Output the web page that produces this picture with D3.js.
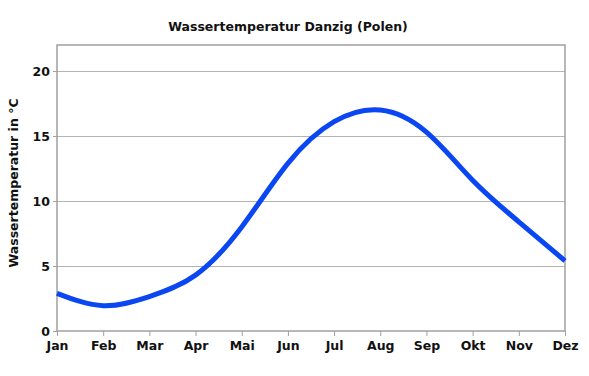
<!DOCTYPE html>
<html><head><meta charset="utf-8">
<script src="https://cdn.jsdelivr.net/npm/d3@7"></script>
<style>body{margin:0;background:#fff}svg{display:block}</style>
</head><body>
<svg id="c" width="589" height="376"></svg>
<script>
const months = ["Jan","Feb","Mar","Apr","Mai","Jun","Jul","Aug","Sep","Okt","Nov","Dez"];
const temps = [2.9, 1.95, 2.65, 4.3, 8.0, 12.9, 16.1, 17.0, 15.3, 11.6, 8.4, 5.4];
const yTicks = [0, 5, 10, 15, 20];
const title = "Wassertemperatur Danzig (Polen)";
const yLabel = "Wassertemperatur in °C";

const svg = d3.select("#c");
const L = 57, R = 565, T = 45, B = 331;
const x = d3.scalePoint().domain(months).range([L, R]);
const y = d3.scaleLinear().domain([0, 22]).range([B, T]);
const font = "'DejaVu Sans', Verdana, sans-serif";

svg.append("g").selectAll("line").data(yTicks.filter(d => d > 0)).join("line")
  .attr("x1", L).attr("x2", R).attr("y1", d => y(d)).attr("y2", d => y(d))
  .attr("stroke", "#b3b3b3").attr("stroke-width", 1).attr("shape-rendering", "crispEdges");

svg.append("rect").attr("x", L).attr("y", T).attr("width", R - L).attr("height", B - T)
  .attr("fill", "none").attr("stroke", "#a0a0a0").attr("stroke-width", 1.5);

const xa = svg.append("g").attr("transform", `translate(0,${B})`)
  .call(d3.axisBottom(x).tickSize(5).tickPadding(5));
xa.select(".domain").remove();
xa.selectAll("line").attr("stroke", "#a0a0a0");
xa.selectAll("text").attr("font-family", font).attr("font-weight", "bold").attr("font-size", 12.5).attr("fill", "#111");

const ya = svg.append("g").attr("transform", `translate(${L},0)`)
  .call(d3.axisLeft(y).tickValues(yTicks).tickSize(4).tickPadding(3));
ya.select(".domain").remove();
ya.selectAll("line").attr("stroke", "#a0a0a0");
ya.selectAll("text").attr("font-family", font).attr("font-weight", "bold").attr("font-size", 12.5).attr("fill", "#111");

const line = d3.line().x((d, i) => x(months[i])).y(d => y(d)).curve(d3.curveNatural);
svg.append("path").datum(temps).attr("d", line).attr("fill", "none")
  .attr("stroke", "#0a47f2").attr("stroke-width", 5).attr("stroke-linecap", "butt");

svg.append("text").attr("x", 288).attr("y", 31).attr("text-anchor", "middle")
  .attr("font-family", font).attr("font-weight", "bold").attr("font-size", 12.5).attr("fill", "#111").text(title);

svg.append("text").attr("transform", `translate(18,${(T + B) / 2 - 5}) rotate(-90)`).attr("text-anchor", "middle")
  .attr("font-family", font).attr("font-weight", "bold").attr("font-size", 12.5).attr("fill", "#111").text(yLabel);
</script>
</body></html>
